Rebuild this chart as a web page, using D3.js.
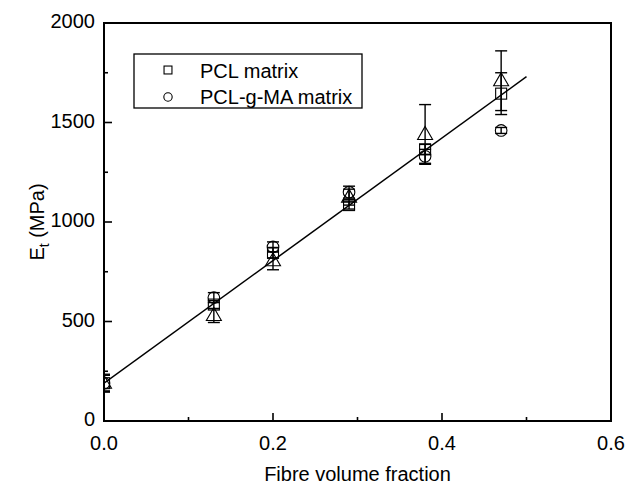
<!DOCTYPE html>
<html><head><meta charset="utf-8">
<script src="https://cdn.jsdelivr.net/npm/d3@7"></script>
<style>body{margin:0;background:#fff}svg{display:block}text{font-family:"Liberation Sans",Arial,sans-serif;fill:#000}</style>
</head><body><svg id="c" width="642" height="489"></svg>
<script>
const fibreFraction = [0, 0.13, 0.2, 0.29, 0.38, 0.47];
const pclMatrix = [190, 585, 845, 1085, 1365, 1645];
const pclMatrixErr = [40, 20, 25, 20, 25, 105];
const pclgmaMatrix = [190, 620, 875, 1150, 1330, 1460];
const pclgmaMatrixErr = [40, 25, 25, 30, 35, 15];
const thirdSeries = [190, 530, 805, 1125, 1440, 1710];
const thirdSeriesErr = [45, 35, 45, 40, 150, 150];
const fitLine = [[0, 190], [0.5, 1730]];
const xTicks = [0, 0.2, 0.4, 0.6];
const yTicks = [0, 500, 1000, 1500, 2000];
const legendLabels = ["PCL matrix", "PCL-g-MA matrix"];

const svg = d3.select("#c");
const L = 104, R = 611, T = 23, B = 421;
const x = d3.scaleLinear().domain([0, 0.6]).range([L, R]);
const y = d3.scaleLinear().domain([0, 2000]).range([B, T]);

svg.append("clipPath").attr("id", "clip").append("rect")
  .attr("x", L).attr("y", T).attr("width", R - L).attr("height", B - T);
const g = svg.append("g").attr("clip-path", "url(#clip)");

g.append("path").datum(fitLine)
  .attr("d", d3.line().x(d => x(d[0])).y(d => y(d[1])))
  .attr("stroke", "#000").attr("stroke-width", 1.5).attr("fill", "none");

const series = [
  {vals: pclMatrix, err: pclMatrixErr, shape: "square"},
  {vals: pclgmaMatrix, err: pclgmaMatrixErr, shape: "circle"},
  {vals: thirdSeries, err: thirdSeriesErr, shape: "triangle"}
];
function marker(sel, shape, cx, cy, k) {
  if (shape === "square") sel.append("rect").attr("x", cx - 5.5 * k).attr("y", cy - 5.5 * k).attr("width", 11 * k).attr("height", 11 * k);
  else if (shape === "circle") sel.append("circle").attr("cx", cx).attr("cy", cy).attr("r", 5.8 * k);
  else sel.append("path").attr("d", `M${cx},${cy-8*k}L${cx+7.5*k},${cy+5*k}L${cx-7.5*k},${cy+5*k}Z`);
}
series.forEach(s => {
  const sg = g.append("g").attr("stroke", "#000").attr("fill", "none").attr("stroke-width", 1.1);
  fibreFraction.forEach((fx, i) => {
    const cx = x(fx), v = s.vals[i], e = s.err[i];
    const eg = sg.append("g").attr("stroke-width", 1.4);
    eg.append("line").attr("x1", cx).attr("x2", cx).attr("y1", y(v + e)).attr("y2", y(v - e));
    [v + e, v - e].forEach(ev => eg.append("line").attr("x1", cx - 6).attr("x2", cx + 6).attr("y1", y(ev)).attr("y2", y(ev)));
    marker(sg, s.shape, cx, y(v), 1);
  });
});

svg.append("rect").attr("x", L).attr("y", T).attr("width", R - L).attr("height", B - T)
  .attr("fill", "none").attr("stroke", "#000").attr("stroke-width", 2);

const tg = svg.append("g").attr("stroke", "#000").attr("stroke-width", 1.6);
d3.range(0, 0.6001, 0.1).forEach((t, i) => {
  const len = i % 2 === 0 ? 8 : 4;
  tg.append("line").attr("x1", x(t)).attr("x2", x(t)).attr("y1", B).attr("y2", B - len);
});
d3.range(0, 2001, 250).forEach((t, i) => {
  const len = i % 2 === 0 ? 8 : 4;
  tg.append("line").attr("x1", L).attr("x2", L + len).attr("y1", y(t)).attr("y2", y(t));
});
xTicks.forEach(t => svg.append("text").attr("x", x(t)).attr("y", 450)
  .attr("text-anchor", "middle").attr("font-size", 20).text(t.toFixed(1)));
yTicks.forEach(t => svg.append("text").attr("x", 95).attr("y", y(t) + 5)
  .attr("text-anchor", "end").attr("font-size", 20).text(t));

svg.append("text").attr("x", (L + R) / 2).attr("y", 481).attr("text-anchor", "middle")
  .attr("font-size", 20).text("Fibre volume fraction");
const yt = svg.append("text").attr("transform", `translate(44,${(T + B) / 2}) rotate(-90)`)
  .attr("text-anchor", "middle").attr("font-size", 20);
yt.append("tspan").text("E");
yt.append("tspan").attr("font-size", 14).attr("dy", 5).text("t");
yt.append("tspan").attr("dy", -5).text(" (MPa)");

const legendRight = 362;
svg.append("rect").attr("x", 134).attr("y", 54).attr("width", legendRight - 134).attr("height", 54)
  .attr("fill", "none").attr("stroke", "#000").attr("stroke-width", 1.3);
const lg = svg.append("g").attr("stroke", "#000").attr("fill", "none").attr("stroke-width", 1.1);
marker(lg, "square", 168, 70, 0.72);
marker(lg, "circle", 168, 97, 0.72);
legendLabels.forEach((lab, i) => svg.append("text").attr("x", 200).attr("y", 78 + i * 26)
  .attr("font-size", 20).text(lab));
</script></body></html>
